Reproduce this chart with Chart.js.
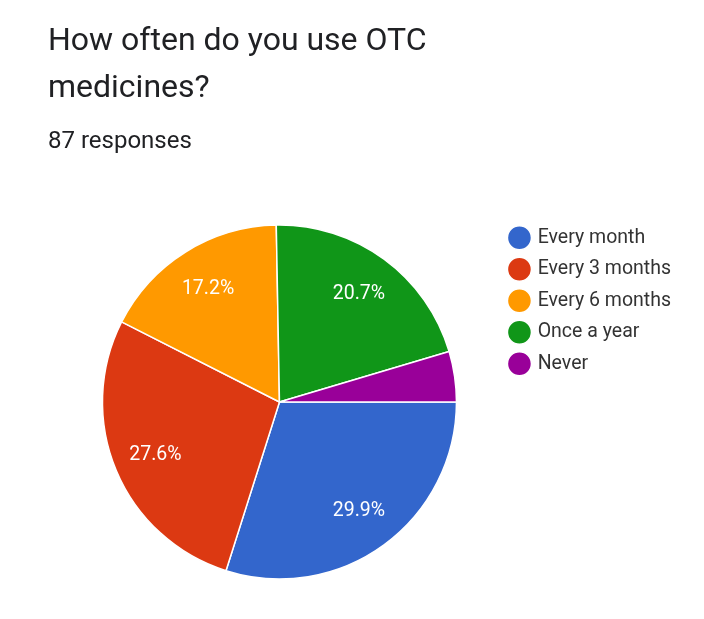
<!DOCTYPE html>
<html>
<head>
<meta charset="utf-8">
<script src="https://cdn.jsdelivr.net/npm/chart.js@4.4.1/dist/chart.umd.min.js"></script>
<style>
  html, body { margin: 0; padding: 0; background: #fff; }
  #wrap { width: 704px; height: 619px; position: relative; font-family: Roboto, sans-serif; color: #202124; }
  #wrap canvas { position: absolute; left: 0; top: 0; }
  .question { position: absolute; left: 48px; top: 16px; margin: 0; font-size: 32px; line-height: 47px; font-weight: normal; }
  .count { position: absolute; left: 48px; top: 126px; margin: 0; font-size: 24px; line-height: 28px; }
</style>
</head>
<body>
<div id="wrap">
  <canvas id="myChart" width="704" height="619"></canvas>
  <h1 class="question" id="question"></h1>
  <div class="count" id="count"></div>
</div>
<script>
const answers = ['Every month', 'Every 3 months', 'Every 6 months', 'Once a year', 'Never'];
const responses = [26, 24, 15, 18, 4];
const sliceColors = ['#3366cc', '#dc3912', '#ff9900', '#109618', '#990099'];
const questionLines = ['How often do you use OTC', 'medicines?'];
const responseCount = '87 responses';

document.getElementById('question').innerHTML = questionLines.join('<br>')
document.getElementById('count').textContent = responseCount

// percentage text drawn inside each slice (small slices get none)
const sliceLabels = {
    id: 'sliceLabels',
    afterDatasetsDraw(chart) {
        const ctx = chart.ctx
        const values = chart.data.datasets[0].data
        const total = values.reduce((a, b) => a + b, 0)
        const meta = chart.getDatasetMeta(0)
        ctx.save()
        ctx.font = '19.5px Roboto'
        ctx.fillStyle = '#ffffff'
        ctx.textAlign = 'center'
        ctx.textBaseline = 'middle'
        meta.data.forEach((arc, i) => {
            const pct = values[i] / total * 100
            if (pct < 5) return
            const p = arc.getProps(['x', 'y', 'startAngle', 'endAngle', 'outerRadius'], true)
            const mid = (p.startAngle + p.endAngle) / 2
            const r = p.outerRadius * 0.76
            ctx.fillText(pct.toFixed(1) + '%', p.x + Math.cos(mid) * r, p.y + Math.sin(mid) * r + 1)
        })
        ctx.restore()
    }
}

const ctx = document.getElementById('myChart').getContext('2d');
const chart = new Chart(ctx, {
    type: 'pie',
    data: {
        labels: answers,
        datasets: [{
            data: responses,
            backgroundColor: sliceColors,
            borderColor: '#ffffff',
            borderWidth: 1.5,
            radius: 177
        }]
    },
    options: {
        responsive: false,
        animation: false,
        rotation: 90,
        layout: { padding: { left: 60, right: 23, top: 216, bottom: 31 } },
        plugins: {
            legend: {
                position: 'right',
                align: 'start',
                labels: {
                    usePointStyle: true,
                    pointStyle: 'circle',
                    boxWidth: 17,
                    boxHeight: 17,
                    padding: 12,
                    color: '#333333',
                    font: { family: 'Roboto', size: 19.5 }
                }
            },
            tooltip: { enabled: false }
        }
    },
    plugins: [sliceLabels]
});
</script>
</body>
</html>
